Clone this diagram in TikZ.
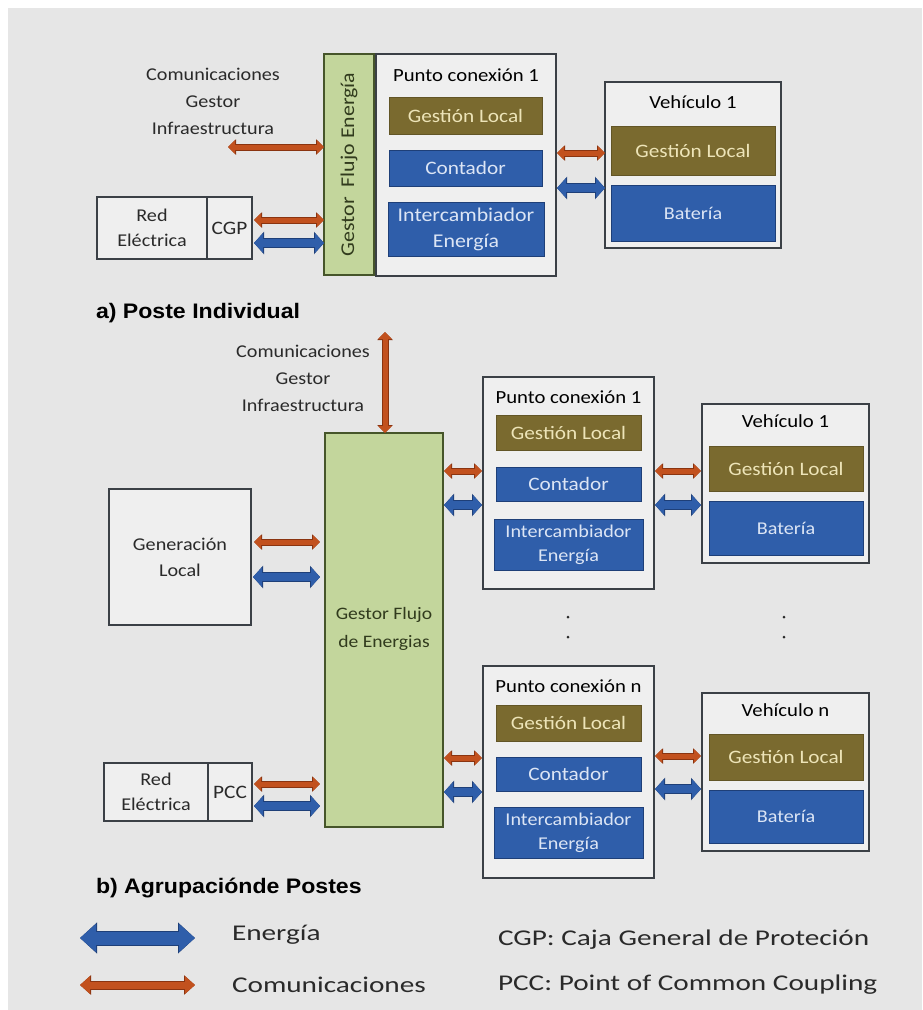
\documentclass[tikz,border=0pt]{standalone}
\usepackage{fontspec}
\setmainfont{Carlito}[FakeStretch=1.12]
\newfontfamily\legfont{Carlito}[FakeStretch=1.3]
\newfontfamily\headfont{Liberation Sans}[FakeStretch=1.1]
\usetikzlibrary{arrows.meta,calc}

\definecolor{bgc}{HTML}{E6E6E6}
\definecolor{boxc}{HTML}{EFEFEF}
\definecolor{edgec}{HTML}{3B4046}
\definecolor{olivec}{HTML}{7A6A2F}
\definecolor{olivetxt}{HTML}{EDE4B8}
\definecolor{bluec}{HTML}{2F5EAA}
\definecolor{bluedk}{HTML}{1E3F78}
\definecolor{bluetxt}{HTML}{DCE5F5}
\definecolor{greenc}{HTML}{C3D69C}
\definecolor{greendk}{HTML}{46552A}
\definecolor{commc}{HTML}{C2511E}
\definecolor{commdk}{HTML}{8A3410}
\definecolor{txtc}{HTML}{2A2A2A}

\tikzset{
  x=1pt, y=-1pt,
  every node/.style={inner sep=0pt, outer sep=0pt, text=txtc},
  frame/.style={draw=edgec, line width=1.4pt, fill=boxc},
  gbox/.style={draw=greendk, line width=1.4pt, fill=greenc},
  olivebox/.style={fill=olivec, draw=olivec!80!black, line width=0.8pt, text=olivetxt,
    font=\fontsize{19}{22}\selectfont},
  bluebox/.style={fill=bluec, draw=bluedk, line width=0.8pt, text=bluetxt,
    font=\fontsize{19}{25}\selectfont, align=center},
  title/.style={font=\fontsize{18.5}{22}\selectfont, text=black},
  plain/.style={font=\fontsize{18}{27}\selectfont, align=center},
  comm/.style={draw=commc, line width=5pt,
    {Triangle[length=7pt,width=13pt]}-{Triangle[length=7pt,width=13pt]},
    preaction={draw=commdk, line width=7pt,
      {Triangle[length=8pt,width=15pt]}-{Triangle[length=8pt,width=15pt]}}},
  ener/.style={draw=bluec, line width=8pt,
    {Triangle[length=9pt,width=19pt]}-{Triangle[length=9pt,width=19pt]},
    preaction={draw=bluedk, line width=10pt,
      {Triangle[length=10pt,width=22pt]}-{Triangle[length=10pt,width=22pt]}}},
  legcomm/.style={draw=commc, line width=7pt,
    {Triangle[length=10pt,width=17pt]}-{Triangle[length=10pt,width=17pt]},
    preaction={draw=commdk, line width=9pt,
      {Triangle[length=11pt,width=19pt]}-{Triangle[length=11pt,width=19pt]}}},
  legener/.style={draw=bluec, line width=13pt,
    {Triangle[length=16pt,width=27pt]}-{Triangle[length=16pt,width=27pt]},
    preaction={draw=bluedk, line width=15pt,
      {Triangle[length=17pt,width=30pt]}-{Triangle[length=17pt,width=30pt]}}},
  heading/.style={font=\headfont\bfseries\fontsize{21}{24}\selectfont, anchor=west, text=black},
  legtxt/.style={font=\legfont\fontsize{22.5}{26}\selectfont, anchor=west},
  dotc/.style={circle, fill=txtc, minimum size=3pt}
}

\begin{document}
\begin{tikzpicture}
% canvas
\fill[white] (0,0) rectangle (922,1010);
\fill[bgc] (8,8) rectangle (922,1010);
\useasboundingbox (0,0) rectangle (922,1010);

%% ---------------- a) single post ----------------
\node[plain] (infA) at (213,101) {Comunicaciones\\Gestor\\Infraestructura};
\coordinate (infAend) at (228,147);

\node[gbox, minimum width=50pt, minimum height=221pt] (gfeA) at (349,164.5) {};
\node[rotate=90, font=\fontsize{19.5}{22}\selectfont, text=greendk!70!black] at (gfeA) {Gestor\ \ Flujo Energía};

\node[frame, minimum width=180pt, minimum height=222pt] (pcA) at (466,165) {};
\node[title] (pcAt) at (466,75) {Punto conexión 1};
\node[olivebox, minimum width=153pt, minimum height=37pt] (glA) at (465.5,115.5) {Gestión Local};
\node[bluebox, minimum width=153pt, minimum height=36pt] (ctA) at (465.5,168) {Contador};
\node[bluebox, minimum width=156pt, minimum height=54pt, font=\fontsize{19.5}{26}\selectfont] (icA) at (466,229) {Intercambiador\\Energía};

\node[frame, minimum width=176pt, minimum height=166pt] (vA) at (693,165) {};
\node[title] (vAt) at (693,102) {Vehículo 1};
\node[olivebox, minimum width=164pt, minimum height=49pt] (vglA) at (693,150.5) {Gestión Local};
\node[bluebox, minimum width=164pt, minimum height=56pt, font=\fontsize{18}{22}\selectfont] (batA) at (693,213) {Batería};

\node[frame, minimum width=110pt, minimum height=62pt, align=center,
      font=\fontsize{18}{25}\selectfont] (redA) at (152,228) {Red\\Eléctrica};
\node[frame, minimum width=45pt, minimum height=62pt,
      font=\fontsize{19}{22}\selectfont] (cgpA) at (229.5,228) {CGP};

\draw[comm] (gfeA.west |- infAend) -- (infAend);
\draw[comm] ([xshift=2pt]cgpA.east |- 0,220) -- (gfeA.west |- 0,220);
\draw[ener] ([xshift=2pt]cgpA.east |- 0,243) -- (gfeA.west |- 0,243);
\draw[comm] ([xshift=1pt]pcA.east |- 0,153) -- (vA.west |- 0,153);
\draw[ener] ([xshift=1pt]pcA.east |- 0,188) -- (vA.west |- 0,188);

\node[heading] (capA) at (96,313) {a) Poste Individual};

%% ---------------- b) group of posts ----------------
\node[plain] (infB) at (303,378) {Comunicaciones\\Gestor\\Infraestructura};
\coordinate (infBend) at (385,332);

\node[gbox, minimum width=118pt, minimum height=394pt] (gfeB) at (384,630) {};
\node[align=center, font=\fontsize{17.5}{28}\selectfont, text=greendk!70!black] at (384,629) {Gestor Flujo\\de Energias};
\draw[comm] (infBend) -- (gfeB.north -| infBend);

\node[frame, minimum width=142pt, minimum height=136pt, align=center,
      font=\fontsize{18}{26}\selectfont] (genB) at (180,557) {Generación\\Local};
\draw[comm] ([xshift=3pt]genB.east |- 0,542) -- ([xshift=-5pt]gfeB.west |- 0,542);
\draw[ener] ([xshift=2pt]genB.east |- 0,577) -- ([xshift=-5pt]gfeB.west |- 0,577);

\node[frame, minimum width=104pt, minimum height=58pt, align=center,
      font=\fontsize{18}{25}\selectfont] (redB) at (156,792) {Red\\Eléctrica};
\node[frame, minimum width=44pt, minimum height=58pt,
      font=\fontsize{19}{22}\selectfont] (pccB) at (230,792) {PCC};
\draw[comm] ([xshift=2pt]pccB.east |- 0,784) -- ([xshift=-5pt]gfeB.west |- 0,784);
\draw[ener] ([xshift=2pt]pccB.east |- 0,806) -- ([xshift=-5pt]gfeB.west |- 0,806);

% connection point 1
\node[frame, minimum width=171pt, minimum height=212pt] (pc1B) at (568.5,483) {};
\node[title] (pc1Bt) at (568.5,397) {Punto conexión 1};
\node[olivebox, minimum width=145pt, minimum height=35pt] (gl1B) at (568.5,432.5) {Gestión Local};
\node[bluebox, minimum width=145pt, minimum height=34pt] (ct1B) at (568.5,484) {Contador};
\node[bluebox, minimum width=149pt, minimum height=51pt, font=\fontsize{18}{24}\selectfont] (ic1B) at (568.5,544.5) {Intercambiador\\Energía};

\node[frame, minimum width=167pt, minimum height=159pt] (v1B) at (785.5,483.5) {};
\node[title] (v1Bt) at (785.5,421) {Vehículo 1};
\node[olivebox, minimum width=154pt, minimum height=45pt] (vgl1B) at (786,468.5) {Gestión Local};
\node[bluebox, minimum width=154pt, minimum height=54pt, font=\fontsize{18}{22}\selectfont] (bat1B) at (786,528) {Batería};

\draw[comm] ([xshift=1pt]gfeB.east |- 0,471) -- ([xshift=-1pt]pc1B.west |- 0,471);
\draw[ener] ([xshift=1pt]gfeB.east |- 0,505) -- ([xshift=-1pt]pc1B.west |- 0,505);
\draw[comm] ([xshift=1pt]pc1B.east |- 0,471) -- ([xshift=-1pt]v1B.west |- 0,471);
\draw[ener] ([xshift=1pt]pc1B.east |- 0,505) -- ([xshift=-1pt]v1B.west |- 0,505);

% ellipsis between first and last post
\node[dotc] (d1) at (568,617) {};
\node[dotc] (d2) at (568,637) {};
\node[dotc] (d3) at (784,617) {};
\node[dotc] (d4) at (784,637) {};

% connection point n
\node[frame, minimum width=171pt, minimum height=212pt] (pcnB) at (568.5,772) {};
\node[title] (pcnBt) at (568.5,686) {Punto conexión n};
\node[olivebox, minimum width=145pt, minimum height=36pt] (glnB) at (568.5,723) {Gestión Local};
\node[bluebox, minimum width=145pt, minimum height=34pt] (ctnB) at (568.5,774) {Contador};
\node[bluebox, minimum width=149pt, minimum height=51pt, font=\fontsize{18}{24}\selectfont] (icnB) at (568.5,832.5) {Intercambiador\\Energía};

\node[frame, minimum width=167pt, minimum height=158pt] (vnB) at (785.5,772) {};
\node[title] (vnBt) at (785.5,710) {Vehículo n};
\node[olivebox, minimum width=154pt, minimum height=46pt] (vglnB) at (786,757) {Gestión Local};
\node[bluebox, minimum width=154pt, minimum height=53pt, font=\fontsize{18}{22}\selectfont] (batnB) at (786,816.5) {Batería};

\draw[comm] ([xshift=1pt]gfeB.east |- 0,758) -- ([xshift=-1pt]pcnB.west |- 0,758);
\draw[ener] ([xshift=1pt]gfeB.east |- 0,792) -- ([xshift=-1pt]pcnB.west |- 0,792);
\draw[comm] ([xshift=1pt]pcnB.east |- 0,756) -- ([xshift=-1pt]vnB.west |- 0,756);
\draw[ener] ([xshift=1pt]pcnB.east |- 0,789) -- ([xshift=-1pt]vnB.west |- 0,789);

\node[heading] (capB) at (96,888) {b) Agrupaciónde Postes};

%% ---------------- legend ----------------
\coordinate (le1) at (80,938);  \coordinate (le2) at (195,938);
\coordinate (lc1) at (80,985);  \coordinate (lc2) at (195,985);
\draw[legener] (le1) -- (le2);
\draw[legcomm] (lc1) -- (lc2);
\node[legtxt] (lgE) at (232,935) {Energía};
\node[legtxt] (lgC) at (232,985) {Comunicaciones};
\node[legtxt] (lgCGP) at (498,940) {CGP: Caja General\ de Proteción};
\node[legtxt] (lgPCC) at (498,985) {PCC: Point of Common Coupling};
\end{tikzpicture}
\end{document}
